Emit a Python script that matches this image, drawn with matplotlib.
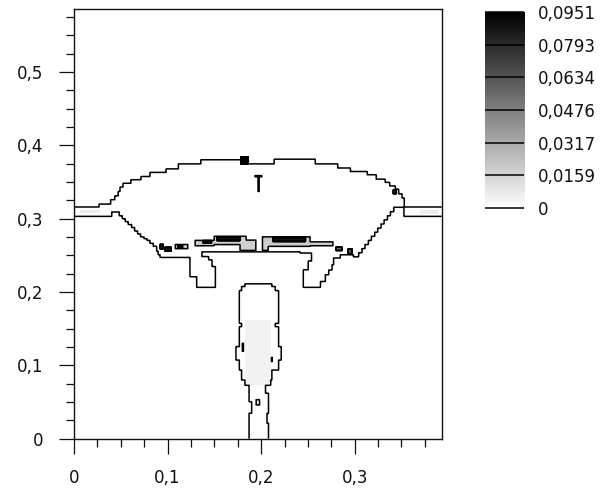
import numpy as np
import matplotlib
matplotlib.use("Agg")
import matplotlib.pyplot as plt
from matplotlib.ticker import MultipleLocator, FuncFormatter

# ---------------- data ----------------
levels = [0.0, 0.0159, 0.0317, 0.0476, 0.0634, 0.0793, 0.0951]
level_labels = ["0", "0,0159", "0,0317", "0,0476", "0,0634", "0,0793", "0,0951"]

x_max = 0.393
y_max = 0.586

# upper outline of the bubble (step function of x): from top_x[i], top is top_y[i]
top_x = [0.0, 0.0271, 0.0393, 0.0439, 0.0474, 0.0492, 0.0527, 0.0610, 0.0717, 0.0813,
         0.0984, 0.1116, 0.1358, 0.1861, 0.2139, 0.2578, 0.2816, 0.2952, 0.3131, 0.3230,
         0.3326, 0.3372, 0.3433, 0.3469, 0.3505, 0.3529]
top_y = [0.3157, 0.3198, 0.3257, 0.3311, 0.3370, 0.3430, 0.3484, 0.3529, 0.3574, 0.3629,
         0.3679, 0.3744, 0.3802, 0.3744, 0.3812, 0.3744, 0.3689, 0.3643, 0.3597, 0.3539,
         0.3493, 0.3448, 0.3402, 0.3338, 0.3280, 0.3157]

# lower outline of the bubble / film (step function of x)
low_x = [0.0, 0.0403, 0.0484, 0.0517, 0.0550, 0.0583, 0.0616, 0.0649, 0.0682, 0.0715,
         0.0748, 0.0781, 0.0813, 0.0848, 0.0884, 0.0901, 0.0920, 0.1241, 0.1366, 0.2417,
         0.2845, 0.2987, 0.3041, 0.3075, 0.3109, 0.3143, 0.3177, 0.3211, 0.3245, 0.3279,
         0.3313, 0.3347, 0.3381, 0.3415, 0.3529]
low_y = [0.3034, 0.3093, 0.3040, 0.3000, 0.2960, 0.2920, 0.2880, 0.2835, 0.2795, 0.2755,
         0.2730, 0.2705, 0.2667, 0.2625, 0.2557, 0.2510, 0.2475, 0.2483, 0.2551, 0.2533,
         0.2510, 0.2483, 0.2539, 0.2595, 0.2651, 0.2707, 0.2763, 0.2819, 0.2875, 0.2931,
         0.2987, 0.3043, 0.3099, 0.3157, 0.3034]

# hanging legs and the rising column, row by row: (y0, y1, x0, x1)
left_leg = [(0.2065, 0.2210, 0.1312, 0.1508),
            (0.2210, 0.2347, 0.1241, 0.1508),
            (0.2347, 0.2438, 0.1241, 0.1473),
            (0.2438, 0.2483, 0.1241, 0.1436)]
right_leg = [(0.2065, 0.2147, 0.2452, 0.2631),
             (0.2147, 0.2237, 0.2452, 0.2684),
             (0.2237, 0.2302, 0.2452, 0.2720),
             (0.2302, 0.2374, 0.2506, 0.2756),
             (0.2374, 0.2420, 0.2506, 0.2773),
             (0.2420, 0.2465, 0.2542, 0.2773),
             (0.2465, 0.2533, 0.2542, 0.2845)]
column = [(0.0000, 0.0210, 0.1875, 0.2078),
          (0.0210, 0.0347, 0.1875, 0.2061),
          (0.0347, 0.0505, 0.1901, 0.2078),
          (0.0505, 0.0619, 0.1875, 0.2078),
          (0.0619, 0.0801, 0.1875, 0.2043),
          (0.0801, 0.0937, 0.1794, 0.2114),
          (0.0937, 0.1074, 0.1768, 0.2185),
          (0.1074, 0.1255, 0.1733, 0.2214),
          (0.1255, 0.1528, 0.1768, 0.2185),
          (0.1528, 0.1574, 0.1794, 0.2150),
          (0.1574, 0.2019, 0.1768, 0.2185),
          (0.2019, 0.2074, 0.1794, 0.2150),
          (0.2074, 0.2111, 0.1829, 0.2114)]

base_value = 0.0006

# small empty spots inside the fluid: (x0, x1, y0, y1)
holes = [(0.1932, 0.2009, 0.3570, 0.3590),
         (0.1965, 0.1979, 0.3370, 0.3590),
         (0.1797, 0.1813, 0.1190, 0.1300),
         (0.2107, 0.2120, 0.1050, 0.1110),
         (0.1945, 0.1985, 0.0460, 0.0535)]

# concentration patches: (x0, x1, y0, y1, value)
patches = [(0.1830, 0.2100, 0.0730, 0.1620, 0.0050),
           (0.0064, 0.0278, 0.3080, 0.3120, 0.0070),
           (0.3700, 0.3890, 0.3070, 0.3120, 0.0070),
           (0.0920, 0.0952, 0.2590, 0.2650, 0.0750),
           (0.0973, 0.1037, 0.2560, 0.2610, 0.0850),
           (0.1080, 0.1219, 0.2590, 0.2650, 0.0180),
           (0.1110, 0.1160, 0.2605, 0.2635, 0.0500),
           (0.1294, 0.1497, 0.2630, 0.2705, 0.0190),
           (0.1380, 0.1470, 0.2665, 0.2700, 0.0650),
           (0.1497, 0.1840, 0.2645, 0.2760, 0.0200),
           (0.1775, 0.1947, 0.2565, 0.2710, 0.0180),
           (0.1529, 0.1775, 0.2700, 0.2750, 0.0880),
           (0.2011, 0.2524, 0.2620, 0.2755, 0.0200),
           (0.2011, 0.2075, 0.2565, 0.2700, 0.0180),
           (0.2128, 0.2471, 0.2690, 0.2748, 0.0880),
           (0.2524, 0.2770, 0.2630, 0.2685, 0.0180),
           (0.2802, 0.2866, 0.2565, 0.2615, 0.0550),
           (0.2930, 0.2973, 0.2520, 0.2585, 0.0650),
           (0.3412, 0.3444, 0.3340, 0.3390, 0.0700),
           (0.1786, 0.1861, 0.3744, 0.3843, 0.0951)]

x_major = [0.0, 0.1, 0.2, 0.3]
y_major = [0.0, 0.1, 0.2, 0.3, 0.4, 0.5]

# ---------------- build the field on a fine grid ----------------
xs = np.linspace(0.0, x_max, 984)
ys = np.linspace(0.0, y_max, 1466)
X, Y = np.meshgrid(xs, ys)

top = np.asarray(top_y)[np.searchsorted(top_x, xs, side="right") - 1]
low = np.asarray(low_y)[np.searchsorted(low_x, xs, side="right") - 1]
inside = (Y > low[None, :]) & (Y < top[None, :])
for (y0, y1, x0, x1) in left_leg + right_leg + column:
    inside |= (Y >= y0) & (Y < y1) & (X >= x0) & (X < x1)

field = np.where(inside, base_value, 0.0)
for (x0, x1, y0, y1) in holes:
    field[(X >= x0) & (X < x1) & (Y >= y0) & (Y < y1)] = 0.0
for (x0, x1, y0, y1, v) in patches:
    field[(X >= x0) & (X < x1) & (Y >= y0) & (Y < y1)] = v

# ---------------- draw ----------------
plt.rcParams["font.family"] = ["DejaVu Sans"]
fig = plt.figure(figsize=(6.03, 4.90), dpi=100)
ax = fig.add_axes([0.1227, 0.1047, 0.6098, 0.8769])

vmin, vmax = levels[0], levels[-1]
ax.imshow(field, origin="lower", extent=[0, x_max, 0, y_max], cmap="gray_r",
          vmin=vmin, vmax=vmax, interpolation="nearest", aspect="auto")
ax.contour(xs, ys, field, levels=levels, colors="k", linewidths=1.1)

ax.set_xlim(0, x_max)
ax.set_ylim(0, y_max)
ax.set_xticks(x_major)
ax.set_yticks(y_major)
ax.xaxis.set_minor_locator(MultipleLocator(0.025))
ax.yaxis.set_minor_locator(MultipleLocator(0.025))
fmt = FuncFormatter(lambda v, p: ("%g" % round(v, 3)).replace(".", ","))
ax.xaxis.set_major_formatter(fmt)
ax.yaxis.set_major_formatter(fmt)
ax.tick_params(which="major", direction="out", length=11, width=0.9, pad=11,
               labelsize=12, colors="#111111")
ax.tick_params(which="minor", direction="out", length=5.5, width=0.9, colors="#111111")
for s in ax.spines.values():
    s.set_linewidth(1.0)
    s.set_color("#111111")

# colour bar
cax = fig.add_axes([0.8043, 0.5755, 0.0647, 0.4])
grad = np.linspace(vmin, vmax, 256)[:, None]
cax.imshow(grad, origin="lower", extent=[0, 1, vmin, vmax], cmap="gray_r",
           vmin=vmin, vmax=vmax, aspect="auto")
cax.hlines(levels, 0, 1, colors="k", linewidth=1.1, clip_on=False)
cax.set_xlim(0, 1)
cax.set_ylim(vmin, vmax)
for s in cax.spines.values():
    s.set_visible(False)
cax.set_xticks([])
cax.yaxis.tick_right()
cax.set_yticks(levels)
cax.set_yticklabels(level_labels)
cax.tick_params(axis="y", length=0, pad=10, labelsize=12, colors="#111111")

fig.savefig("out.png", dpi=100)
